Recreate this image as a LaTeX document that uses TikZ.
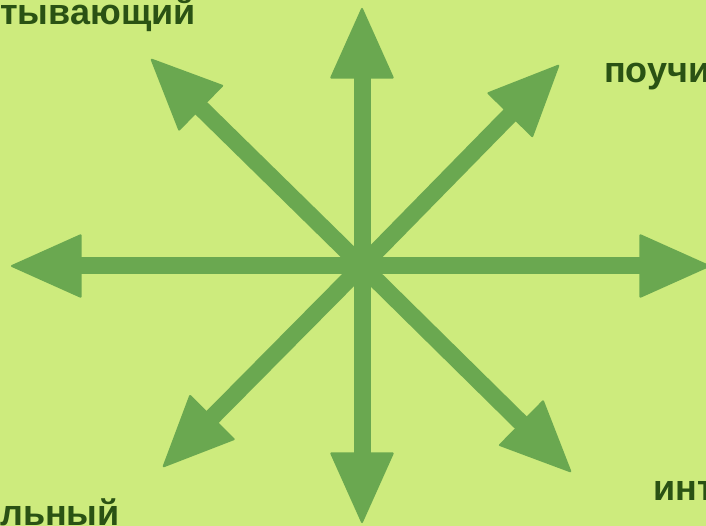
\documentclass[tikz,border=0pt]{standalone}
\usepackage{fontspec}
\setmainfont{Liberation Sans}
\usetikzlibrary{arrows.meta}
\definecolor{bgc}{RGB}{205,235,125}
\definecolor{arc}{RGB}{106,168,80}
\definecolor{txc}{RGB}{42,82,20}
\tikzset{
  ray/.style={draw=arc, line width=17pt,
    -{Triangle[length=72pt,width=64pt,round,line width=2pt]}},
  lbl/.style={inner sep=0pt, font=\fontsize{36}{40}\selectfont\bfseries, text=txc}
}
\begin{document}
\begin{tikzpicture}[x=1pt,y=-1pt]
\fill[bgc] (0,0) rectangle (706,526);
\useasboundingbox (0,0) rectangle (706,526);
\coordinate (c) at (362,266);
\coordinate (n) at (362,8);
\coordinate (s) at (362,523);
\coordinate (w) at (11,266);
\coordinate (e) at (710,266);
\coordinate (nw) at (151,59);
\coordinate (ne) at (559,65);
\coordinate (sw) at (163,467);
\coordinate (se) at (571,472);
\foreach \t in {n,s,w,e,nw,ne,sw,se} \draw[ray] (c) -- (\t);
\node[lbl, anchor=base west] (t1) at (0,25) {тывающий};
\node[lbl, anchor=base west] (t2) at (604,83) {поучи};
\node[lbl, anchor=base west] (t3) at (653,500) {инт};
\node[lbl, anchor=base west] (t4) at (0,525) {льный};
\end{tikzpicture}
\end{document}
